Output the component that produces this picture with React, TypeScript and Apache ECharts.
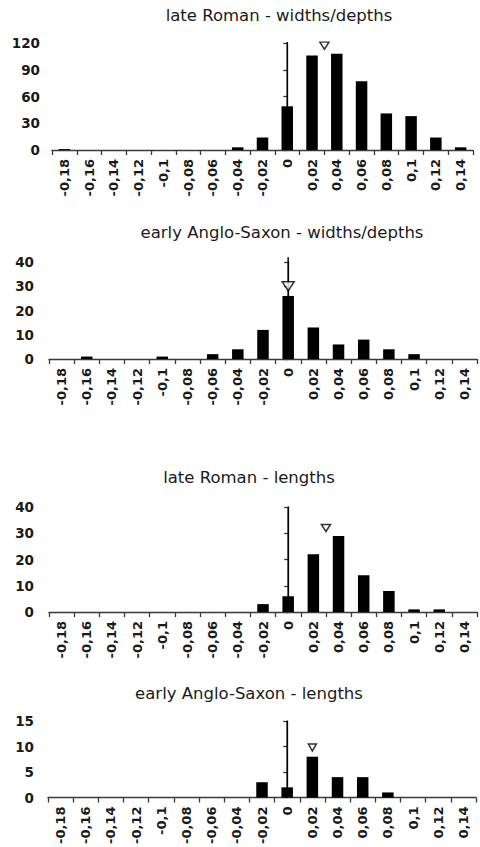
import React, { useEffect, useRef } from "react";
import * as echarts from "echarts";

const categories = ["-0,18", "-0,16", "-0,14", "-0,12", "-0,1", "-0,08", "-0,06", "-0,04", "-0,02", "0", "0,02", "0,04", "0,06", "0,08", "0,1", "0,12", "0,14"];

const titles = [
  "late Roman - widths/depths",
  "early Anglo-Saxon - widths/depths",
  "late Roman - lengths",
  "early Anglo-Saxon - lengths",
];

const lateRomanWidths = [1, 0, 0, 0, 0, 0, 0, 3, 14, 49, 106, 108, 77, 41, 38, 14, 3];
const earlyASWidths = [0, 1, 0, 0, 1, 0, 2, 4, 12, 26, 13, 6, 8, 4, 2, 0, 0];
const lateRomanLengths = [0, 0, 0, 0, 0, 0, 0, 0, 3, 6, 22, 29, 14, 8, 1, 1, 0];
const earlyASLengths = [0, 0, 0, 0, 0, 0, 0, 0, 3, 2, 8, 4, 4, 1, 0, 0, 0];

// mean marker (x value, y value)
const meanX = [0.03, 0, 0.03, 0.02];
const meanY = [117, 30, 32, 9.8];
// vertical zero line top value
const zeroLineTop = [121, 42, 40, 15];

const yMax = [120, 40, 40, 15];
const yStep = [30, 10, 10, 5];

const FONT = "DejaVu Sans";
const TEXT = "#1a1a1a";
const AXIS = "#3a3a3a";

const grids = [
  { left: 52, right: 7, top: 43, height: 107, labelMargin: 12 },
  { left: 49, right: 3, top: 262, height: 97, labelMargin: 15 },
  { left: 49, right: 3, top: 507, height: 105, labelMargin: 15 },
  { left: 48, right: 4, top: 721, height: 78.5, labelMargin: 14 },
];
const titlePos = [
  { x: 279, y: 15 },
  { x: 282, y: 232 },
  { x: 249, y: 477 },
  { x: 249, y: 693 },
];
const triSize = [[9, 7], [12, 9], [9, 7], [8, 7]];

export default function App() {
  const ref = useRef<HTMLDivElement>(null);
  useEffect(() => {
    if (!ref.current) return;
    const chart = echarts.init(ref.current, undefined, { renderer: "svg" });
    const datasets = [lateRomanWidths, earlyASWidths, lateRomanLengths, earlyASLengths];

    const grid: any[] = [];
    const xAxis: any[] = [];
    const yAxis: any[] = [];
    const series: any[] = [];
    const graphic: any[] = [];

    datasets.forEach((vals, i) => {
      const g = grids[i];
      grid.push({ left: g.left, right: g.right, top: g.top, height: g.height, containLabel: false });
      xAxis.push({
        type: "category",
        gridIndex: i,
        data: categories,
        axisLine: { lineStyle: { color: AXIS, width: 1.3 } },
        axisTick: { show: true, length: 5, lineStyle: { color: AXIS, width: 1.3 } },
        axisLabel: {
          rotate: 90,
          interval: 0,
          margin: 9,
          fontFamily: FONT,
          fontSize: 13,
          fontWeight: "bold",
          color: TEXT,
        },
      });
      xAxis.push({
        type: "value",
        gridIndex: i,
        min: -0.19,
        max: 0.15,
        show: false,
      });
      yAxis.push({
        type: "value",
        gridIndex: i,
        min: 0,
        max: yMax[i],
        interval: yStep[i],
        splitLine: { show: false },
        axisLine: { show: true, lineStyle: { color: AXIS, width: 1.3 } },
        axisTick: { show: true, length: 4, lineStyle: { color: AXIS, width: 1.3 } },
        axisLabel: { margin: g.labelMargin, fontFamily: FONT, fontSize: 13.5, fontWeight: "bold", color: TEXT },
      });
      series.push({
        type: "bar",
        xAxisIndex: i * 2,
        yAxisIndex: i,
        data: vals,
        barWidth: 11.5,
        itemStyle: { color: "#000" },
        z: 2,
      });
      series.push({
        type: "line",
        xAxisIndex: i * 2 + 1,
        yAxisIndex: i,
        data: [[0, 0], [0, zeroLineTop[i]]],
        symbol: "none",
        clip: false,
        lineStyle: { color: "#000", width: 1.5 },
        z: 3,
      });
      series.push({
        type: "scatter",
        xAxisIndex: i * 2 + 1,
        yAxisIndex: i,
        data: [[meanX[i], meanY[i]]],
        symbol: "triangle",
        symbolRotate: 180,
        symbolSize: triSize[i],
        clip: false,
        itemStyle: { color: "#fff", borderColor: "#000", borderWidth: 1.5 },
        z: 4,
      });
      graphic.push({
        type: "text",
        x: titlePos[i].x,
        y: titlePos[i].y,
        style: {
          text: titles[i],
          fontFamily: FONT,
          fontSize: 16.5,
          fill: TEXT,
          align: "center",
          textAlign: "center",
          verticalAlign: "middle",
          textVerticalAlign: "middle",
        },
      });
    });

    chart.setOption({
      animation: false,
      backgroundColor: "#fff",
      grid,
      xAxis,
      yAxis,
      series,
      graphic,
    });
    return () => chart.dispose();
  }, []);
  return (
    <div
      ref={ref}
      style={{ position: "fixed", left: 0, top: 0, width: 480, height: 847, background: "#fff" }}
    />
  );
}
